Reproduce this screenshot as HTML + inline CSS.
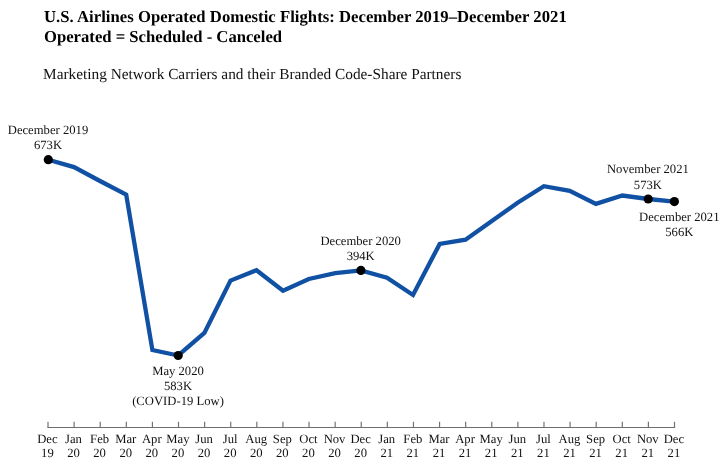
<!DOCTYPE html>
<html><head><meta charset="utf-8"><style>
html,body{margin:0;padding:0;background:#fff;}
body{text-rendering:geometricPrecision;width:725px;height:468px;overflow:hidden;position:relative;font-family:"Liberation Serif",serif;}
.t{position:absolute;left:43.5px;white-space:nowrap;color:#000;font-weight:bold;font-size:16.67px;line-height:19.5px;}
.s{position:absolute;left:43px;white-space:nowrap;color:#111;font-size:15.33px;}
svg{position:absolute;left:0;top:0;will-change:transform;}
.t,.s{will-change:transform;}
svg text{font-family:"Liberation Serif",serif;font-size:12.67px;fill:#111;}
</style></head><body>
<div class="t" id="t1" style="top:7px;letter-spacing:0.03px">U.S. Airlines Operated Domestic Flights: December 2019&#8211;December 2021</div>
<div class="t" id="t2" style="top:27px">Operated = Scheduled - Canceled</div>
<div class="s" id="s1" style="top:66.1px">Marketing Network Carriers and their Branded Code-Share Partners</div>
<svg width="725" height="468" viewBox="0 0 725 468">
<line x1="47.4" y1="427.5" x2="675.1" y2="427.5" stroke="#6e6e6e" stroke-width="1"/>
<line x1="48.00" y1="421.8" x2="48.00" y2="427.5" stroke="#737373" stroke-width="1.2"/>
<text x="47.40" y="442.5" text-anchor="middle">Dec</text>
<text x="47.40" y="457.4" text-anchor="middle">19</text>
<line x1="74.10" y1="421.8" x2="74.10" y2="427.5" stroke="#737373" stroke-width="1.2"/>
<text x="73.50" y="442.5" text-anchor="middle">Jan</text>
<text x="73.50" y="457.4" text-anchor="middle">20</text>
<line x1="100.21" y1="421.8" x2="100.21" y2="427.5" stroke="#737373" stroke-width="1.2"/>
<text x="99.61" y="442.5" text-anchor="middle">Feb</text>
<text x="99.61" y="457.4" text-anchor="middle">20</text>
<line x1="126.31" y1="421.8" x2="126.31" y2="427.5" stroke="#737373" stroke-width="1.2"/>
<text x="125.71" y="442.5" text-anchor="middle">Mar</text>
<text x="125.71" y="457.4" text-anchor="middle">20</text>
<line x1="152.42" y1="421.8" x2="152.42" y2="427.5" stroke="#737373" stroke-width="1.2"/>
<text x="151.82" y="442.5" text-anchor="middle">Apr</text>
<text x="151.82" y="457.4" text-anchor="middle">20</text>
<line x1="178.52" y1="421.8" x2="178.52" y2="427.5" stroke="#737373" stroke-width="1.2"/>
<text x="177.92" y="442.5" text-anchor="middle">May</text>
<text x="177.92" y="457.4" text-anchor="middle">20</text>
<line x1="204.62" y1="421.8" x2="204.62" y2="427.5" stroke="#737373" stroke-width="1.2"/>
<text x="204.03" y="442.5" text-anchor="middle">Jun</text>
<text x="204.03" y="457.4" text-anchor="middle">20</text>
<line x1="230.73" y1="421.8" x2="230.73" y2="427.5" stroke="#737373" stroke-width="1.2"/>
<text x="230.13" y="442.5" text-anchor="middle">Jul</text>
<text x="230.13" y="457.4" text-anchor="middle">20</text>
<line x1="256.83" y1="421.8" x2="256.83" y2="427.5" stroke="#737373" stroke-width="1.2"/>
<text x="256.23" y="442.5" text-anchor="middle">Aug</text>
<text x="256.23" y="457.4" text-anchor="middle">20</text>
<line x1="282.94" y1="421.8" x2="282.94" y2="427.5" stroke="#737373" stroke-width="1.2"/>
<text x="282.34" y="442.5" text-anchor="middle">Sep</text>
<text x="282.34" y="457.4" text-anchor="middle">20</text>
<line x1="309.04" y1="421.8" x2="309.04" y2="427.5" stroke="#737373" stroke-width="1.2"/>
<text x="308.44" y="442.5" text-anchor="middle">Oct</text>
<text x="308.44" y="457.4" text-anchor="middle">20</text>
<line x1="335.15" y1="421.8" x2="335.15" y2="427.5" stroke="#737373" stroke-width="1.2"/>
<text x="334.55" y="442.5" text-anchor="middle">Nov</text>
<text x="334.55" y="457.4" text-anchor="middle">20</text>
<line x1="361.25" y1="421.8" x2="361.25" y2="427.5" stroke="#737373" stroke-width="1.2"/>
<text x="360.65" y="442.5" text-anchor="middle">Dec</text>
<text x="360.65" y="457.4" text-anchor="middle">20</text>
<line x1="387.35" y1="421.8" x2="387.35" y2="427.5" stroke="#737373" stroke-width="1.2"/>
<text x="386.75" y="442.5" text-anchor="middle">Jan</text>
<text x="386.75" y="457.4" text-anchor="middle">21</text>
<line x1="413.46" y1="421.8" x2="413.46" y2="427.5" stroke="#737373" stroke-width="1.2"/>
<text x="412.86" y="442.5" text-anchor="middle">Feb</text>
<text x="412.86" y="457.4" text-anchor="middle">21</text>
<line x1="439.56" y1="421.8" x2="439.56" y2="427.5" stroke="#737373" stroke-width="1.2"/>
<text x="438.96" y="442.5" text-anchor="middle">Mar</text>
<text x="438.96" y="457.4" text-anchor="middle">21</text>
<line x1="465.67" y1="421.8" x2="465.67" y2="427.5" stroke="#737373" stroke-width="1.2"/>
<text x="465.07" y="442.5" text-anchor="middle">Apr</text>
<text x="465.07" y="457.4" text-anchor="middle">21</text>
<line x1="491.77" y1="421.8" x2="491.77" y2="427.5" stroke="#737373" stroke-width="1.2"/>
<text x="491.17" y="442.5" text-anchor="middle">May</text>
<text x="491.17" y="457.4" text-anchor="middle">21</text>
<line x1="517.88" y1="421.8" x2="517.88" y2="427.5" stroke="#737373" stroke-width="1.2"/>
<text x="517.27" y="442.5" text-anchor="middle">Jun</text>
<text x="517.27" y="457.4" text-anchor="middle">21</text>
<line x1="543.98" y1="421.8" x2="543.98" y2="427.5" stroke="#737373" stroke-width="1.2"/>
<text x="543.38" y="442.5" text-anchor="middle">Jul</text>
<text x="543.38" y="457.4" text-anchor="middle">21</text>
<line x1="570.08" y1="421.8" x2="570.08" y2="427.5" stroke="#737373" stroke-width="1.2"/>
<text x="569.48" y="442.5" text-anchor="middle">Aug</text>
<text x="569.48" y="457.4" text-anchor="middle">21</text>
<line x1="596.19" y1="421.8" x2="596.19" y2="427.5" stroke="#737373" stroke-width="1.2"/>
<text x="595.59" y="442.5" text-anchor="middle">Sep</text>
<text x="595.59" y="457.4" text-anchor="middle">21</text>
<line x1="622.29" y1="421.8" x2="622.29" y2="427.5" stroke="#737373" stroke-width="1.2"/>
<text x="621.69" y="442.5" text-anchor="middle">Oct</text>
<text x="621.69" y="457.4" text-anchor="middle">21</text>
<line x1="648.40" y1="421.8" x2="648.40" y2="427.5" stroke="#737373" stroke-width="1.2"/>
<text x="647.80" y="442.5" text-anchor="middle">Nov</text>
<text x="647.80" y="457.4" text-anchor="middle">21</text>
<line x1="674.50" y1="421.8" x2="674.50" y2="427.5" stroke="#737373" stroke-width="1.2"/>
<text x="673.90" y="442.5" text-anchor="middle">Dec</text>
<text x="673.90" y="457.4" text-anchor="middle">21</text>
<path d="M48.3,159.7 L74,167.1 L100,181 L126.2,194.7 L152.4,350.0 L178.2,355.5 L204.4,333 L230.5,280.6 L256.5,270.2 L283,290.7 L308.8,279 L335.3,273.1 L360.9,270.4 L387,277.8 L413,295 L439.7,243.9 L465.5,239.7 L491.5,221.3 L517.6,202.8 L543.9,186.2 L569.7,190.8 L595.9,203.9 L622.4,195.5 L648.2,199.0 L674.4,201.6" fill="none" stroke="#1151a3" stroke-width="4.3" stroke-linejoin="miter" stroke-miterlimit="10"/>
<circle cx="48.3" cy="159.7" r="4.6" fill="#000"/>
<circle cx="178.2" cy="355.5" r="4.6" fill="#000"/>
<circle cx="360.9" cy="270.4" r="4.6" fill="#000"/>
<circle cx="648.2" cy="199.0" r="4.6" fill="#000"/>
<circle cx="674.4" cy="201.6" r="4.6" fill="#000"/>
<text x="48" y="133.9" text-anchor="middle">December 2019</text>
<text x="48" y="148.8" text-anchor="middle">673K</text>
<text x="178" y="374.9" text-anchor="middle">May 2020</text>
<text x="178" y="389.8" text-anchor="middle">583K</text>
<text x="178" y="404.7" text-anchor="middle">(COVID-19 Low)</text>
<text x="360.7" y="244.6" text-anchor="middle">December 2020</text>
<text x="360.7" y="259.5" text-anchor="middle">394K</text>
<text x="647.9" y="173.3" text-anchor="middle">November 2021</text>
<text x="647.9" y="188.5" text-anchor="middle">573K</text>
<text x="679.3" y="221.3" text-anchor="middle">December 2021</text>
<text x="679.3" y="236" text-anchor="middle">566K</text>
</svg>
</body></html>
